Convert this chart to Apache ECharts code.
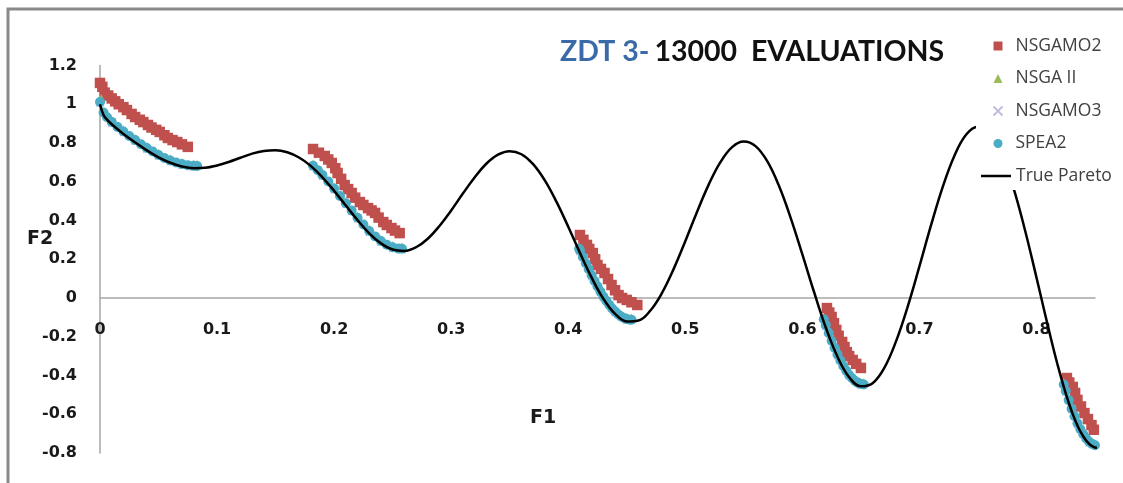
<!DOCTYPE html>
<html>
<head>
<meta charset="utf-8">
<script src="https://cdn.jsdelivr.net/npm/echarts/dist/echarts.min.js"></script>
<style>
html,body{margin:0;padding:0;background:#fff;}
#chart{width:1123px;height:483px;}
</style>
</head>
<body>
<div id="chart"></div>
<script>
// X tick labels 0 .. 0.8, Y tick labels -0.8 .. 1.2
var xTicks = [0, 0.1, 0.2, 0.3, 0.4, 0.5, 0.6, 0.7, 0.8];
var yTicks = [-0.8, -0.6, -0.4, -0.2, 0, 0.2, 0.4, 0.6, 0.8, 1, 1.2];

var seriesNames = ['NSGAMO2', 'NSGA II', 'NSGAMO3', 'SPEA2', 'True Pareto'];

// NSGAMO2 (red squares) [F1, F2]
var nsgamo2 = [
  [0,1.11],[0.002,1.09],[0.004,1.06],[0.007,1.045],[0.01,1.03],[0.013,1.015],[0.016,1.0],[0.02,0.985],[0.023,0.97],[0.027,0.95],[0.03,0.934],[0.034,0.92],[0.037,0.908],[0.041,0.893],[0.044,0.88],[0.048,0.868],[0.051,0.857],[0.055,0.84],[0.058,0.826],[0.062,0.815],[0.066,0.805],[0.07,0.793],[0.075,0.78],
  [0.182,0.769],[0.187,0.75],[0.192,0.733],[0.195,0.715],[0.198,0.697],[0.201,0.67],[0.203,0.645],[0.206,0.615],[0.209,0.583],[0.212,0.562],[0.215,0.542],[0.218,0.518],[0.222,0.495],[0.225,0.48],[0.229,0.464],[0.232,0.452],[0.235,0.439],[0.238,0.415],[0.242,0.392],[0.245,0.377],[0.249,0.361],[0.252,0.348],[0.256,0.335],
  [0.41,0.325],[0.413,0.3],[0.416,0.274],[0.418,0.253],[0.421,0.232],[0.423,0.2],[0.425,0.17],[0.428,0.15],[0.431,0.129],[0.434,0.098],[0.437,0.067],[0.44,0.04],[0.443,0.015],[0.446,0.0],[0.45,-0.01],[0.454,-0.022],[0.459,-0.036],
  [0.621,-0.052],[0.623,-0.075],[0.625,-0.098],[0.627,-0.13],[0.629,-0.165],[0.631,-0.195],[0.634,-0.227],[0.636,-0.253],[0.638,-0.279],[0.64,-0.3],[0.643,-0.32],[0.646,-0.34],[0.65,-0.361],
  [0.826,-0.413],[0.828,-0.436],[0.831,-0.459],[0.833,-0.49],[0.835,-0.526],[0.838,-0.56],[0.841,-0.594],[0.844,-0.625],[0.847,-0.656],[0.849,-0.68],[0.851,-0.707]
];

// NSGA II (green triangles)
var nsga2 = [
  [0.001,1.03],[0.01,0.919],[0.02,0.869],[0.03,0.825],[0.04,0.784],[0.05,0.748],[0.06,0.72],[0.07,0.701],[0.08,0.692],[0.083,0.691],
  [0.182,0.693],[0.19,0.645],[0.2,0.575],[0.21,0.499],[0.22,0.424],[0.23,0.356],[0.24,0.304],[0.25,0.272],[0.258,0.264],
  [0.4093,0.264],[0.415,0.189],[0.42,0.127],[0.425,0.07],[0.43,0.018],[0.435,-0.025],[0.44,-0.06],[0.445,-0.085],[0.45,-0.099],[0.454,-0.102],
  [0.6183,-0.1],[0.625,-0.211],[0.63,-0.281],[0.635,-0.341],[0.64,-0.387],[0.645,-0.418],[0.65,-0.434],[0.6525,-0.436],
  [0.8233,-0.436],[0.83,-0.561],[0.835,-0.636],[0.84,-0.693],[0.845,-0.732],[0.85,-0.75],[0.8518,-0.751]
];

// NSGAMO3 (lavender crosses)
var nsgamo3 = [
  [0,1.005],[0.01,0.902],[0.02,0.852],[0.03,0.808],[0.04,0.767],[0.05,0.731],[0.06,0.703],[0.07,0.684],[0.08,0.675],
  [0.182,0.676],[0.19,0.628],[0.2,0.558],[0.21,0.482],[0.22,0.407],[0.23,0.339],[0.24,0.287],[0.25,0.255],[0.258,0.247],
  [0.41,0.238],[0.42,0.11],[0.43,0.001],[0.44,-0.077],[0.45,-0.116],
  [0.62,-0.147],[0.63,-0.298],[0.64,-0.404],[0.65,-0.451],
  [0.825,-0.487],[0.835,-0.653],[0.845,-0.749],[0.851,-0.768]
];

// SPEA2 (blue circles)
var spea2 = [
  [0,1.012],[0.003,0.957],[0.006,0.933],[0.01,0.909],[0.015,0.883],[0.02,0.859],[0.025,0.836],[0.03,0.815],[0.035,0.794],[0.04,0.774],[0.045,0.756],[0.05,0.738],[0.055,0.723],[0.06,0.71],[0.065,0.699],[0.07,0.691],[0.075,0.685],[0.08,0.682],[0.083,0.681],
  [0.182,0.683],[0.186,0.66],[0.19,0.635],[0.195,0.601],[0.2,0.565],[0.205,0.527],[0.21,0.489],[0.215,0.451],[0.22,0.414],[0.225,0.379],[0.23,0.346],[0.235,0.318],[0.24,0.294],[0.245,0.275],[0.25,0.262],[0.255,0.255],[0.258,0.254],
  [0.4093,0.254],[0.41,0.245],[0.4125,0.212],[0.415,0.179],[0.4175,0.148],[0.42,0.117],[0.4225,0.088],[0.425,0.06],[0.4275,0.033],[0.43,0.008],[0.4325,-0.014],[0.435,-0.035],[0.4375,-0.054],[0.44,-0.07],[0.4425,-0.084],[0.445,-0.095],[0.4475,-0.103],[0.45,-0.109],[0.4525,-0.112],[0.454,-0.112],
  [0.6183,-0.11],[0.62,-0.14],[0.6225,-0.181],[0.625,-0.221],[0.6275,-0.257],[0.63,-0.291],[0.6325,-0.323],[0.635,-0.351],[0.6375,-0.375],[0.64,-0.397],[0.6425,-0.414],[0.645,-0.428],[0.6475,-0.438],[0.65,-0.444],[0.6525,-0.446],
  [0.8233,-0.446],[0.825,-0.48],[0.8275,-0.527],[0.83,-0.571],[0.8325,-0.61],[0.835,-0.646],[0.8375,-0.677],[0.84,-0.703],[0.8425,-0.725],[0.845,-0.742],[0.8475,-0.754],[0.85,-0.76],[0.8518,-0.761]
];

// True Pareto front curve
var truePareto = [
  [0,1],[0.003,0.945],[0.006,0.921],[0.01,0.897],[0.02,0.847],[0.03,0.803],[0.04,0.762],[0.05,0.726],[0.06,0.698],[0.07,0.679],[0.08,0.670],[0.09,0.672],
  [0.10,0.684],[0.11,0.702],[0.12,0.724],[0.13,0.745],[0.14,0.759],[0.15,0.763],[0.16,0.752],[0.17,0.725],[0.18,0.682],[0.19,0.623],
  [0.20,0.553],[0.21,0.477],[0.22,0.402],[0.23,0.334],[0.24,0.282],[0.25,0.250],[0.26,0.243],[0.27,0.262],[0.28,0.306],[0.29,0.372],
  [0.30,0.452],[0.31,0.539],[0.32,0.622],[0.33,0.693],[0.34,0.740],[0.35,0.758],[0.36,0.742],[0.37,0.691],[0.38,0.607],[0.39,0.496],
  [0.40,0.368],[0.41,0.233],[0.42,0.105],[0.43,-0.004],[0.44,-0.082],[0.45,-0.121],[0.46,-0.116],[0.47,-0.066],[0.48,0.025],[0.49,0.149],
  [0.50,0.293],[0.51,0.444],[0.52,0.585],[0.53,0.701],[0.54,0.779],[0.55,0.808],[0.56,0.784],[0.57,0.706],[0.58,0.579],[0.59,0.414],
  [0.60,0.225],[0.61,0.031],[0.62,-0.152],[0.63,-0.303],[0.64,-0.409],[0.65,-0.456],[0.66,-0.440],[0.67,-0.361],[0.68,-0.224],[0.69,-0.044],
  [0.70,0.163],[0.71,0.377],[0.72,0.575],[0.73,0.736],[0.74,0.844],[0.75,0.884],[0.76,0.851],[0.77,0.745],[0.78,0.575],[0.79,0.355],
  [0.80,0.106],[0.81,-0.150],[0.82,-0.388],[0.83,-0.583],[0.84,-0.715],[0.85,-0.772],[0.852,-0.773]
];

var chart = echarts.init(document.getElementById('chart'));
var labelFont = {color:'#1a1a1a', fontFamily:'DejaVu Sans', fontWeight:'bold', fontSize:16};
var legendText = {color:'#404040', fontFamily:'Open Sans', fontSize:17.5, lineHeight:18};

chart.setOption({
  animation:false,
  backgroundColor:'#ffffff',
  grid:{left:100, right:28, top:65.5, bottom:30, containLabel:false, outerBoundsMode:'none'},
  title:{
    text:'{b|ZDT 3-} {k|13000  EVALUATIONS}',
    left:555, top:32,
    textStyle:{
      rich:{
        b:{color:'#3a6aa8', fontFamily:'Lato', fontWeight:'bold', fontSize:28.5},
        k:{color:'#111111', fontFamily:'Lato', fontWeight:'bold', fontSize:28.5}
      }
    }
  },
  legend:[
    {
      orient:'vertical',
      left:976, top:32,
      padding:[5,20,10,16.5],
      backgroundColor:'#ffffff',
      itemWidth:9, itemHeight:9,
      itemGap:14.5,
      textStyle:Object.assign({padding:[0,0,0,8]}, legendText),
      data:[
        {name:seriesNames[0], icon:'rect'},
        {name:seriesNames[1], icon:'triangle'},
        {name:seriesNames[2]},
        {name:seriesNames[3], icon:'circle'}
      ]
    },
    {
      orient:'vertical',
      left:976, top:162,
      padding:[5,20,5,5],
      backgroundColor:'#ffffff',
      itemWidth:30, itemHeight:2.5,
      textStyle:legendText,
      data:[{name:seriesNames[4], icon:'rect', itemStyle:{color:'#000000'}}]
    }
  ],
  xAxis:{
    type:'value', min:0, max:0.85, interval:0.1,
    position:'bottom', offset:-155,
    axisLine:{onZero:false, lineStyle:{color:'#a6a6a6', width:1.5}},
    axisTick:{show:false},
    splitLine:{show:false},
    axisLabel:Object.assign({margin:24, showMaxLabel:false,
      formatter:function(v){ var r=Math.round(v*10)/10; return xTicks.indexOf(r) >= 0 ? String(r) : ''; }}, labelFont)
  },
  yAxis:{
    type:'value', min:-0.8, max:1.2, interval:0.2,
    axisLine:{show:true, onZero:false, lineStyle:{color:'#a6a6a6', width:1.5}},
    axisTick:{show:false},
    splitLine:{show:false},
    axisLabel:Object.assign({margin:23,
      formatter:function(v){ var r=Math.round(v*10)/10; return yTicks.indexOf(r) >= 0 ? String(r) : ''; }}, labelFont)
  },
  graphic:[
    {type:'rect', shape:{x:8, y:9, width:1300, height:700}, style:{fill:'none', stroke:'#8a8a8a', lineWidth:3}, silent:true, z:0},
    {type:'text', left:27, top:230, style:{text:'F2', fill:'#1a1a1a', font:'bold 19px "DejaVu Sans"'}},
    {type:'text', left:530, top:409, style:{text:'F1', fill:'#1a1a1a', font:'bold 19px "DejaVu Sans"'}}
  ],
  series:[
    {name:seriesNames[0], type:'scatter', data:nsgamo2, symbol:'rect', symbolSize:10.5,
      itemStyle:{color:'#C0504D', opacity:1}},
    {name:seriesNames[1], type:'scatter', data:nsga2, symbol:'triangle', symbolSize:8.5,
      itemStyle:{color:'#9BBB59', opacity:1}},
    {name:seriesNames[2], type:'scatter', data:nsgamo3, symbol:'path://M0,0L10,10M10,0L0,10', symbolSize:7,
      itemStyle:{color:'rgba(0,0,0,0)', borderColor:'#c4bce0', borderWidth:1.2, opacity:1}},
    {name:seriesNames[3], type:'scatter', data:spea2, symbol:'circle', symbolSize:10,
      itemStyle:{color:'#4BACC6', opacity:1}},
    {name:seriesNames[4], type:'line', data:truePareto, smooth:0.4, showSymbol:false, symbol:'none',
      lineStyle:{color:'#000000', width:2.5}, itemStyle:{color:'#000000'}, z:3}
  ]
});
</script>
</body>
</html>
